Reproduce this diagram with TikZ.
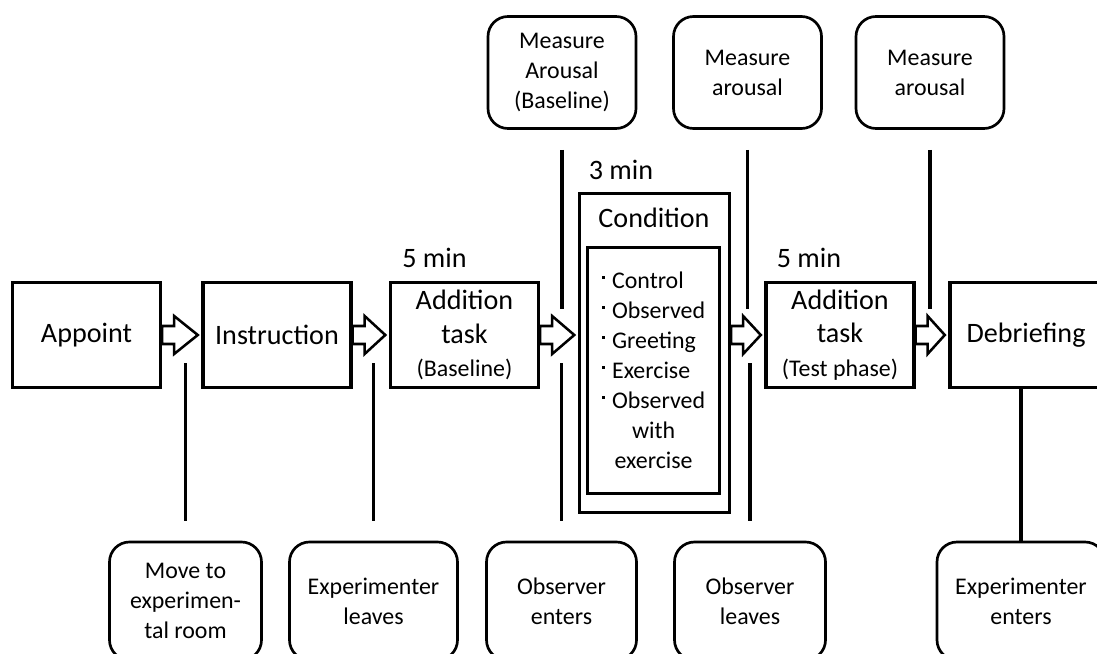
\documentclass[tikz,border=0pt]{standalone}
\usepackage{fontspec}
\setmainfont{Carlito}
\usepackage{tikz}
\usetikzlibrary{calc}
\tikzset{
  stagebox/.style={draw=black, line width=2.3pt, fill=white, minimum width=3.7cm, minimum height=2.62cm, align=center, inner sep=0pt, font=\fontsize{20}{24}\selectfont},
  eventbox/.style={draw=black, rounded corners=0.5cm, line width=1.9pt, fill=white, minimum width=3.7cm, minimum height=2.8cm, align=center, inner sep=0pt, font=\fontsize{17}{21.3}\selectfont},
  condbox/.style={draw=black, line width=2.3pt},
  tick/.style={line width=2.6pt},
  stagearrow/.style={draw=black, fill=white, line width=1.8pt, line join=miter},
  timelabel/.style={font=\fontsize{20}{24}\selectfont}
}
\newcommand{\dotmark}{\raisebox{0.4em}{\rule{0.12em}{0.12em}}\hspace{0.3em}}

\begin{document}
\begin{tikzpicture}[x=1cm,y=1cm]
  \useasboundingbox (0,0) rectangle (27.425,16.325);
  \coordinate (row) at (0,7.95);
  \coordinate (topend) at (0,8.6);
  \coordinate (botend) at (0,7.25);

  % stages
  \node[stagebox] (appoint) at (2.1625,7.95) {Appoint};
  \node[stagebox] (instr) at (6.925,7.95) {Instruction};
  \node[stagebox] (addbase) at (11.6125,7.95) {Addition\\task\\{\fontsize{17}{24}\selectfont (Baseline)}};
  \node[condbox, minimum width=3.75cm, minimum height=7.975cm] (cond) at (16.3625,7.5) {};
  \node[condbox, minimum width=3.3cm, minimum height=6.15cm] (condin) at (16.3375,7.0625) {};
  \node[stagebox] (addtest) at (21.0,7.95) {Addition\\task\\{\fontsize{17}{24}\selectfont (Test phase)}};
  \node[stagebox, minimum width=3.8cm] (debrief) at (25.65,7.95) {Debriefing};

  \node[timelabel] (condtitle) at (16.35,10.875) {Condition};
  \node[font=\fontsize{17}{21.3}\selectfont, inner sep=0pt] (condlist) at (16.34,7.02) {%
    \begin{tabular}{@{}l@{}}
      \dotmark Control\\
      \dotmark Observed\\
      \dotmark Greeting\\
      \dotmark Exercise\\
      \dotmark Observed\\
      \multicolumn{1}{@{}c@{}}{with}\\
      \multicolumn{1}{@{}c@{}}{exercise}
    \end{tabular}};

  % durations
  \node[timelabel] (minA) at (10.8625,9.875) {5 min};
  \node[timelabel] (minB) at (15.525,12.075) {3 min};
  \node[timelabel] (minC) at (20.225,9.875) {5 min};

  \foreach \a/\b in {appoint/instr,instr/addbase,addbase/cond,cond/addtest,addtest/debrief} {
    \coordinate (s) at (\a.east |- row);
    \coordinate (t) at (\b.west |- row);
    \draw[stagearrow] ($(s)+(0,0.225)$) -- ++(0.3,0) -- ++(0,0.25) -- ($(t)+(-0.09,0)$)
      -- ($(s)+(0.3,-0.475)$) -- ++(0,0.25) -- ($(s)+(0,-0.225)$) -- cycle;
  }

  % arousal measures
  \node[eventbox] (arousalA) at (14.05,14.5125) {Measure\\Arousal\\(Baseline)};
  \node[eventbox] (arousalB) at (18.6875,14.5125) {Measure\\arousal};
  \node[eventbox] (arousalC) at (23.25,14.5125) {Measure\\arousal};
  \foreach \n in {arousalA,arousalB,arousalC}
    \draw[tick] ([yshift=-0.5cm]\n.south) -- (\n.south |- topend);

  % events
  \node[eventbox, minimum width=3.8cm, minimum height=2.95cm] (moveroom) at (4.6375,1.3) {Move to\\experimen-\\tal room};
  \node[eventbox, minimum width=4.2cm, minimum height=2.95cm] (expleave) at (9.3375,1.3) {Experimenter\\leaves};
  \node[eventbox, minimum width=3.75cm, minimum height=2.95cm] (obsenter) at (14.0375,1.3) {Observer\\enters};
  \node[eventbox, minimum width=3.775cm, minimum height=2.95cm] (obsleave) at (18.75,1.3) {Observer\\leaves};
  \node[eventbox, minimum width=4.2cm, minimum height=2.95cm] (expenter) at (25.525,1.3) {Experimenter\\enters};
  \foreach \n in {moveroom,expleave,obsenter,obsleave}
    \draw[tick] (\n.north |- botend) -- ([yshift=0.48cm]\n.north);
  \draw[tick] (debrief.south -| expenter.north) -- (expenter.north);
\end{tikzpicture}
\end{document}
